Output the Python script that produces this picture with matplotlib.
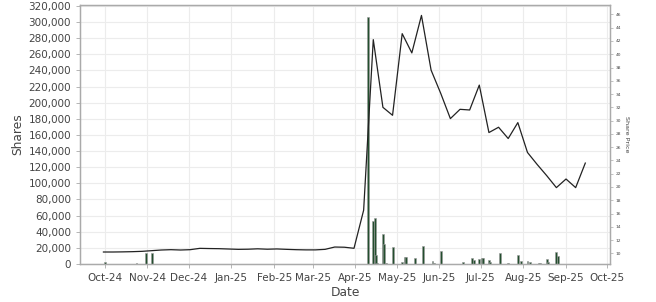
import matplotlib
matplotlib.use("Agg")
from matplotlib import pyplot as plt
import matplotlib.dates as mdates
from matplotlib.ticker import FuncFormatter
import pandas as pd

# weekly share price (Mondays from 2024-09-30)
price_start = "2024-09-30"
prices = [
    10.2, 10.2, 10.22, 10.25, 10.3, 10.4, 10.5, 10.55, 10.5, 10.55,
    10.75, 10.72, 10.7, 10.65, 10.6, 10.62, 10.68, 10.62, 10.66, 10.6,
    10.55, 10.52, 10.52, 10.6, 10.95, 10.92, 10.76,
    16.5, 42.2, 32.0, 30.8, 43.1, 40.2, 45.85, 37.6, 34.1, 30.3,
    31.7, 31.6, 35.35, 28.2, 29.0, 27.3, 29.7, 25.2, 23.4, 21.7,
    19.9, 21.2, 19.9, 23.6,
]

# daily traded shares
volume_dates = [
    "2024-10-01", "2024-10-24", "2024-10-31", "2024-11-04",
    "2025-04-10", "2025-04-14", "2025-04-15", "2025-04-16", "2025-04-17",
    "2025-04-21", "2025-04-22", "2025-04-23", "2025-04-28", "2025-05-05",
    "2025-05-07", "2025-05-08", "2025-05-14", "2025-05-20", "2025-05-27",
    "2025-05-28", "2025-06-02", "2025-06-18", "2025-06-25", "2025-06-26",
    "2025-06-30", "2025-07-02", "2025-07-03", "2025-07-07", "2025-07-08",
    "2025-07-15", "2025-07-21", "2025-07-28", "2025-07-30", "2025-08-04",
    "2025-08-06", "2025-08-12", "2025-08-13", "2025-08-18", "2025-08-19",
    "2025-08-25", "2025-08-26",
]
volumes = [
    2500, 1000, 13300, 13300,
    306000, 53000, 56700, 11200, 1000,
    36800, 24400, 1000, 21500, 2900,
    9000, 8500, 7000, 22300, 3700,
    1000, 16100, 2500, 7000, 5000,
    6200, 7000, 7000, 5000, 2500,
    13200, 1000, 11200, 3700, 3700,
    2500, 1500, 1500, 5800, 2000,
    14500, 10000,
]


def main() -> None:
    price_dates = pd.date_range(price_start, periods=len(prices), freq="W-MON")
    vol_dates = pd.to_datetime(volume_dates)

    fig = plt.figure(figsize=(6.56, 3.02), dpi=100)
    ax = fig.add_axes([0.122, 0.126, 0.808, 0.857])
    ax2 = ax.twinx()

    ax.bar(vol_dates, volumes, width=1.4, color="#234f2e",
           edgecolor="#9a9a9a", linewidth=0.4, zorder=2)
    ax2.plot(price_dates, prices, color="#222222", linewidth=0.9)

    ax.set_xlim(pd.Timestamp("2024-09-13"), pd.Timestamp("2025-10-03"))
    ax.set_ylim(0, 321000)
    ax.set_yticks(range(0, 320001, 20000))
    ax.yaxis.set_major_formatter(FuncFormatter(lambda v, p: f"{v:,.0f}"))
    ax.xaxis.set_major_locator(mdates.MonthLocator())
    ax.xaxis.set_major_formatter(mdates.DateFormatter("%b-%y"))

    ax2.set_ylim(8.4, 47.4)
    ax2.set_yticks(range(10, 47, 2))

    ax.grid(True, color="#ececec", linewidth=0.8, zorder=0)
    ax.set_axisbelow(True)

    ax.tick_params(axis="both", labelsize=7.5, colors="#444444",
                   length=3, width=0.6, color="#aaaaaa")
    ax2.tick_params(axis="y", labelsize=3.2, colors="#444444",
                    length=2, width=0.5, color="#aaaaaa", pad=2)

    ax.set_ylabel("Shares", fontsize=8.8, color="#444444", labelpad=3)
    ax.set_xlabel("Date", fontsize=8.8, color="#444444", labelpad=2)
    ax2.set_ylabel("Share Price", fontsize=4.6, color="#444444",
                   rotation=270, labelpad=6)

    for a in (ax, ax2):
        for s in a.spines.values():
            s.set_color("#aaaaaa")
            s.set_linewidth(0.9)

    fig.savefig("out.png", dpi=100)


if __name__ == "__main__":
    main()
